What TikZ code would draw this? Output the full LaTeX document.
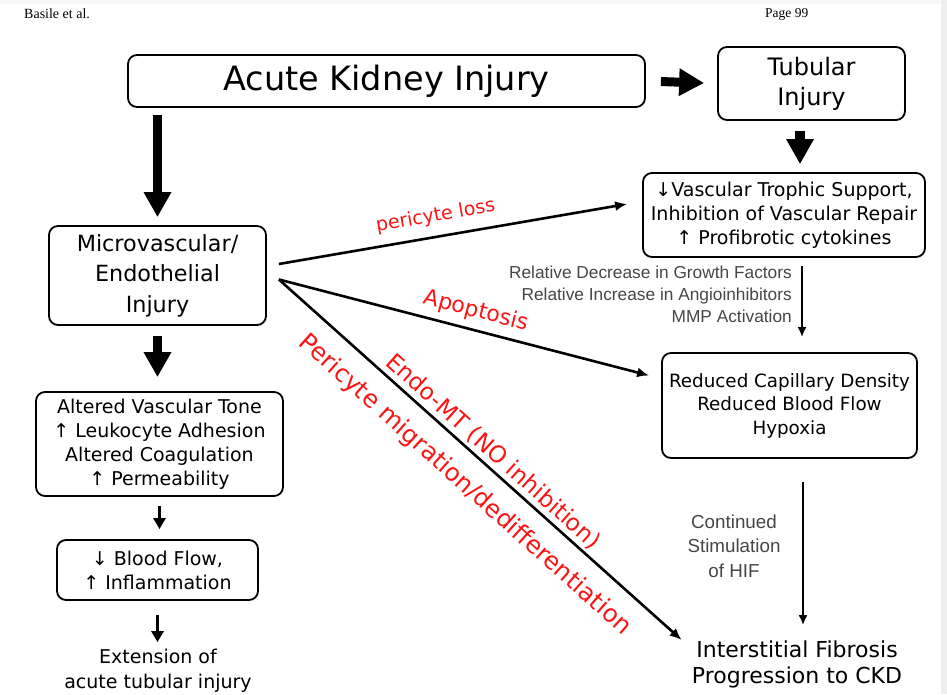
\documentclass[tikz,border=0pt]{standalone}
\usepackage{fontspec}
\usepackage{tikz}
\usetikzlibrary{positioning,arrows.meta,calc}
\setmainfont{DejaVu Sans}
\newfontfamily\timesfont{Liberation Serif}
\newfontfamily\arialfont{Liberation Sans}
\definecolor{lblRed}{RGB}{250,20,20}
\definecolor{noteGray}{RGB}{70,70,70}
\definecolor{edgeGray}{RGB}{238,238,238}

\begin{document}
\begin{tikzpicture}[x=1pt, y=-1pt,
  flowbox/.style={draw, line width=1.8pt, rounded corners=9pt, align=center, inner sep=0pt},
  plaintext/.style={align=center, inner sep=1pt},
  bigarrow/.style={line width=9pt, -{Triangle[length=25pt,width=26pt]}},
  smallarrow/.style={line width=3pt, -{Triangle[length=11pt,width=12pt]}},
  thinarrow/.style={line width=2pt, -{Latex[length=10pt,width=9pt]}},
  diagarrow/.style={line width=2.6pt, -{Latex[length=12pt,width=10pt]}},
  redlabel/.style={text=lblRed, inner sep=1pt},
  graynote/.style={text=noteGray, font=\arialfont\fontsize{17.3}{22}\selectfont, inner sep=0pt},
]
\useasboundingbox (0,0) rectangle (947,694);
\fill[edgeGray] (941,0) rectangle (947,694);
\fill[edgeGray!50] (0,0) rectangle (941,4);

% ===================================================================
% HEADER
% ===================================================================
\node[anchor=west, inner sep=0pt, font=\timesfont\fontsize{14}{16}\selectfont] (authors) at (24,14) {Basile et al.};
\node[anchor=west, inner sep=0pt, font=\timesfont\fontsize{13.5}{15}\selectfont] (pagenum) at (765,14) {Page 99};

% ===================================================================
% TOP ROW
% ===================================================================
\node[flowbox, minimum width=517pt, minimum height=52pt, font=\fontsize{33.5}{36}\selectfont] (aki) at (386.5,81) {Acute Kidney Injury};
\node[flowbox, minimum width=187pt, minimum height=73pt, font=\fontsize{24}{30}\selectfont] (tub) at (811.5,83.5) {Tubular\\Injury};

\draw[bigarrow] (aki.east) -- (tub.west) [shorten <=15pt, shorten >=13pt];

% ===================================================================
% RIGHT COLUMN
% ===================================================================
\node[flowbox, minimum width=282pt, minimum height=84pt, font=\fontsize{19}{24}\selectfont] (trophic) at (784,215)
  {↓Vascular Trophic Support,\\Inhibition of Vascular Repair\\↑ Profibrotic cytokines};
\node[flowbox, minimum width=255pt, minimum height=105pt, font=\fontsize{18.3}{23.5}\selectfont] (capil) at (789.5,405.5)
  {Reduced Capillary Density\\Reduced Blood Flow\\Hypoxia};
\node[plaintext, font=\fontsize{22}{26}\selectfont] (fibro) at (797,664)
  {Interstitial Fibrosis\\Progression to CKD};

\draw[bigarrow, line width=10pt] ([xshift=-11.5pt]tub.south) -- ([xshift=16pt]trophic.north) [shorten <=10pt, shorten >=8pt];

\draw[thinarrow] ([xshift=18pt]trophic.south) -- ([xshift=12.5pt]capil.north) [shorten <=8pt, shorten >=15pt];
\node[graynote, anchor=east, align=right] (growth) at (792,294)
  {Relative Decrease in Growth Factors\\Relative Increase in Angioinhibitors\\MMP Activation};

\draw[thinarrow] ([xshift=13.5pt]capil.south) -- ([xshift=6pt]fibro.north) [shorten <=23pt, shorten >=14pt];
\node[graynote, align=center, font=\arialfont\fontsize{18.8}{24.5}\selectfont] (hif) at (734,546)
  {Continued\\Stimulation\\of HIF};

% ===================================================================
% LEFT COLUMN
% ===================================================================
\node[flowbox, minimum width=217pt, minimum height=99pt, font=\fontsize{22.3}{30.5}\selectfont] (micro) at (157.5,275.5)
  {Microvascular/\\Endothelial\\Injury};
\node[flowbox, minimum width=247pt, minimum height=104pt, font=\fontsize{19}{24}\selectfont] (altered) at (159.5,444)
  {Altered Vascular Tone\\↑ Leukocyte Adhesion\\Altered Coagulation\\↑ Permeability};
\node[flowbox, minimum width=201pt, minimum height=60pt, font=\fontsize{19}{24}\selectfont] (flow) at (157.5,570)
  {↓ Blood Flow,\\↑ Inflammation};
\node[plaintext, font=\fontsize{19}{25}\selectfont] (extend) at (158,671)
  {Extension of\\acute tubular injury};

\draw[bigarrow] (micro.north |- aki.south) -- (micro.north) [shorten <=7pt, shorten >=8pt];
\draw[bigarrow] (micro.south) -- (micro.south |- altered.north) [shorten <=10pt, shorten >=14pt];
\draw[smallarrow] (altered.south) -- (altered.south |- flow.north) [shorten <=9pt, shorten >=10pt];
\draw[smallarrow] (flow.south) -- (flow.south |- extend.north) [shorten <=14pt, shorten >=6pt];

% ===================================================================
% DIAGONAL PATHWAYS
% ===================================================================
\draw[diagarrow] ([xshift=12pt,yshift=11.5pt]micro.east) -- ([xshift=-15pt,yshift=11pt]trophic.west)
  node[redlabel, pos=0.46, above=9pt, sloped, font=\fontsize{19}{22}\selectfont] (lblloss) {pericyte loss};
\draw[diagarrow] ([xshift=12pt,yshift=-4pt]micro.east) -- ([xshift=-12pt,yshift=30pt]capil.west)
  node[redlabel, pos=0.52, above=6pt, sloped, font=\fontsize{22}{24}\selectfont] (lblapop) {Apoptosis};
\draw[diagarrow] ([xshift=12pt,yshift=-4pt]micro.east) -- ([xshift=-9pt,yshift=24pt]fibro.west)
  node[redlabel, pos=0.508, above=2pt, sloped, font=\fontsize{23.3}{26}\selectfont] (lblendo) {Endo-MT (NO inhibition)}
  node[redlabel, pos=0.51, below=15pt, sloped, font=\fontsize{24.5}{27}\selectfont] (lblmigr) {Pericyte migration/dedifferentiation};

\end{tikzpicture}
\end{document}
